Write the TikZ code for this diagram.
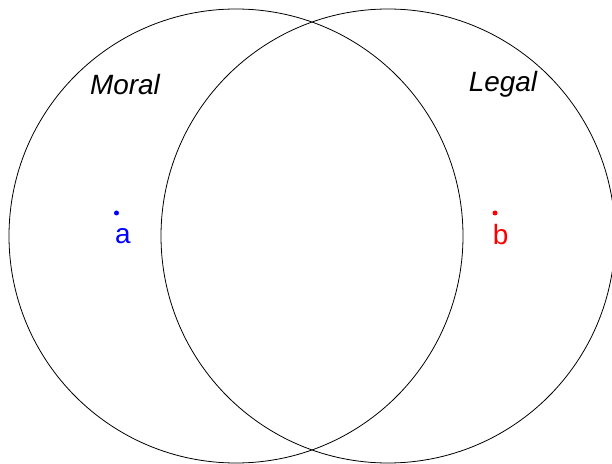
\documentclass[tikz,border=0pt]{standalone}
\usepackage{fontspec}
\setmainfont{Liberation Sans}
\begin{document}
\begin{tikzpicture}[x=1bp,y=-1bp,
  setcircle/.style={draw=black,line width=0.8bp},
  dotmark/.style={circle,fill=#1,inner sep=0pt,minimum size=5bp},
  lbl/.style={font=\fontsize{28}{32}\selectfont,inner sep=0pt,anchor=base},
  setname/.style={font=\fontsize{28}{32}\selectfont\itshape,inner sep=0pt,anchor=base}]
\useasboundingbox (0,0) rectangle (612,464);
\clip (0,0) rectangle (612,464);
\draw[setcircle] (236,236) circle[radius=227];
\draw[setcircle] (388,236) circle[radius=227];
\node[setname] (moral) at (125,95) {Moral};
\node[setname] (legal) at (503,92) {Legal};
\node[dotmark=blue] (pa) at (116.5,213) {};
\node[dotmark=red] (pb) at (495,213) {};
\node[lbl,text=blue] (la) at (123,244) {a};
\node[lbl,text=red] (lb) at (500.5,245) {b};
\end{tikzpicture}
\end{document}
